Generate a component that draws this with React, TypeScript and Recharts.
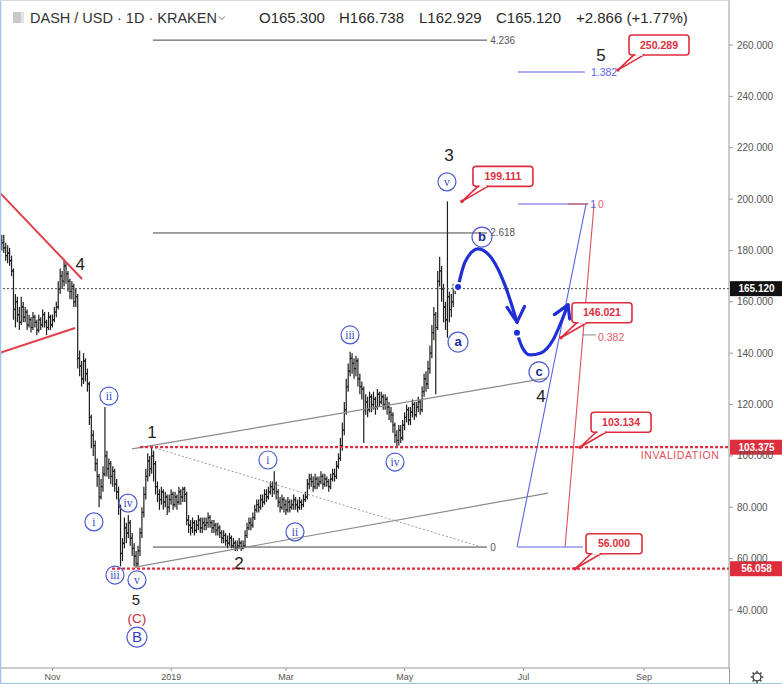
import React from 'react';
import { ComposedChart, XAxis, YAxis, Bar, Line, ReferenceLine, ReferenceDot } from 'recharts';

// ---------------- data ----------------
const START_INDEX = -3; // day index of the first candle (Nov 1 2018 = 23)
const FIRST_OPEN = 184;

const closes = [
  183,
  181, 178, 179, 176, 172,
  157,
  160, 155, 152, 158, 154, 156, 151, 153, 150, 154, 152, 149, 153, 151, 155, 152, 150, 154, 151, 153, 156, 158,
  165, 170, 168, 174, 171, 168, 164, 166, 160, 162,
  138, 135, 130, 137, 132, 128, 115, 108, 104,
  97, 92, 84, 88, 93, 100, 95, 97, 92, 94, 89,
  86, 80, 62, 66, 72, 70, 74, 68, 64, 61, 58,
  63, 70, 78, 85, 92, 98, 95, 100, 97,
  88, 85, 83, 86, 82, 84, 80, 83, 85, 81, 84, 82, 86, 84, 87, 85,
  75, 73, 72, 74, 71, 73, 75, 72, 74, 73,
  74,
  76, 74, 72, 73, 71, 72, 70,
  68, 69, 67, 66, 68, 65, 66, 64, 65, 66, 64, 65,
  69, 72, 74, 73, 76, 79, 81, 80, 83, 82, 85, 84,
  86, 88, 87, 89, 86, 82, 80, 83, 81, 79, 82, 80,
  81,
  83, 81, 80, 82, 81, 83, 84,
  89, 91, 90, 88, 91, 89, 90, 92, 89, 91, 90, 88, 91, 93, 92,
  96, 99, 104, 110, 118, 127, 133, 138,
  136, 134, 137, 130, 127, 126, 118,
  121, 118, 123, 120, 122, 119, 124, 121, 123, 120, 122, 119, 117, 116,
  112, 108, 106, 110, 107, 112,
  115, 118, 114, 117, 120, 116, 119, 121, 118,
  125, 130, 128, 134, 140, 148, 155, 150,
  168, 172, 165, 158, 153, 162,
  157, 160, 165.3, 165.12,
];

const highs = [
  186,
  186, 183, 182, 181, 178,
  173,
  163, 162, 158, 162, 160, 158, 157, 155, 154, 156, 155, 153, 155, 154, 157, 156, 153, 156, 155, 155, 158, 160,
  168, 173, 172, 176, 175, 172, 169, 168, 167, 165,
  163, 141, 137, 140, 138, 134, 129, 116, 110,
  106, 99, 93, 91, 96, 119, 102, 99, 98, 96, 95,
  91, 88, 81, 68, 76, 74, 77, 75, 70, 66, 63,
  65, 72, 80, 88, 95, 101, 100, 104, 102,
  98, 90, 87, 88, 87, 86, 85, 85, 87, 86, 86, 85, 88, 87, 88, 88,
  86, 77, 75, 76, 75, 75, 77, 76, 76, 76,
  76,
  78, 77, 75, 75, 74, 74, 73,
  71, 71, 70, 69, 70, 69, 68, 67, 67, 68, 67, 67,
  71, 74, 76, 76, 78, 81, 83, 83, 85, 85, 87, 87,
  88, 90, 90, 94, 90, 87, 84, 85, 84, 83, 84, 83,
  83,
  85, 84, 83, 84, 83, 85, 86,
  91, 93, 93, 92, 93, 92, 92, 94, 93, 93, 92, 91, 93, 95, 95,
  98, 101, 107, 113, 121, 130, 136, 140.5,
  140, 138, 139, 138, 132, 129, 127,
  124, 123, 125, 124, 125, 123, 126, 125, 125, 124, 124, 123, 121, 119,
  117, 113, 110, 112, 112, 114,
  117, 120, 119, 119, 122, 121, 121, 123, 122,
  127, 132, 133, 137, 143, 151, 158, 156,
  172, 177.5, 174, 167, 160, 199.111,
  164, 163, 167, 166.738,
];

const lows = [
  180,
  179, 176, 175, 174, 170,
  153,
  150, 152, 149, 151, 152, 152, 149, 150, 148, 149, 150, 147, 148, 149, 150, 150, 147, 149, 149, 150, 152, 154,
  157, 163, 165, 166, 167, 164, 161, 161, 158, 158,
  134, 131, 127, 128, 129, 125, 112, 103, 100,
  94, 88, 80, 83, 86, 92, 92, 91, 89, 88, 86,
  83, 77, 57, 59, 64, 66, 68, 65, 61, 57, 56.5,
  57, 61, 68, 76, 83, 90, 92, 93, 90,
  85, 82, 79, 81, 79, 80, 77, 78, 81, 79, 80, 79, 81, 81, 82, 82,
  73, 70, 69, 70, 69, 70, 71, 70, 70, 71,
  71,
  72, 72, 70, 70, 69, 69, 68,
  66, 66, 65, 64, 65, 64, 64, 63, 63, 64, 63, 63.5,
  64, 68, 71, 71, 72, 75, 78, 78, 79, 80, 81, 82,
  83, 85, 84, 85, 83, 80, 78, 79, 78, 77, 78, 78,
  79,
  79, 79, 78, 79, 79, 80, 82,
  83, 87, 88, 86, 87, 87, 88, 89, 87, 88, 88, 86, 87, 90, 90,
  91, 95, 98, 102, 108, 116, 125, 131,
  132, 130, 131, 127, 124, 122, 105,
  116, 115, 117, 117, 118, 116, 118, 119, 120, 118, 118, 116, 114, 113,
  109, 105, 103.5, 104, 105, 106,
  110, 113, 112, 112, 115, 114, 115, 117, 116,
  117, 123, 125, 126, 132, 138, 145, 124,
  149, 166, 160, 152, 149, 146,
  152, 154, 158, 162.929,
];

const monthTicks = [23, 84, 143, 204, 265, 327];
const monthLabels = ['Nov', '2019', 'Mar', 'May', 'Jul', 'Sep'];
const priceTicks = [40, 60, 80, 100, 120, 140, 160, 180, 200, 220, 240, 260];
const X_DOMAIN: [number, number] = [-3.98, 370.64];
const Y_DOMAIN: [number, number] = [17.4, 277.52];

const lastPrice = 165.12;
const invalidationLevel = 103.375;
const lowLevel = 56.058;

// annotation geometry, in (day index, price)
const redWedge = [
  [{ i: -3.98, v: 202.4 }, { i: 38.2, v: 168.9 }],
  [{ i: -3.98, v: 140.1 }, { i: 34.6, v: 149.8 }],
];
const channelLines = [
  [{ i: 63.9, v: 102.7 }, { i: 277.1, v: 130.3 }],
  [{ i: 65.4, v: 56.7 }, { i: 277.6, v: 85.5 }],
];
const dottedDiagonal = [{ i: 75.7, v: 103.1 }, { i: 245.3, v: 64.1 }];
const fibLevels = [
  { t: '4.236', v: 261.9 },
  { t: '2.618', v: 186.8 },
  { t: '0', v: 64.5 },
];
const fibSpan = [74.6, 246.3];
const blueFib = [
  [{ i: 261.7, v: 64.5 }, { i: 297.2, v: 198.1 }],
  [{ i: 262.2, v: 198.1 }, { i: 298.2, v: 198.1 }],
  [{ i: 262.2, v: 64.5 }, { i: 295.6, v: 64.5 }],
  [{ i: 262.2, v: 249.5 }, { i: 296.6, v: 249.5 }],
];
const redFib = [
  [{ i: 286.4, v: 64.5 }, { i: 301.3, v: 198.1 }],
  [{ i: 287.9, v: 198.1 }, { i: 298.2, v: 198.1 }],
];
const grayTick = [{ i: 295.1, v: 147.1 }, { i: 302.3, v: 147.1 }];
const fibTexts = [
  { t: '1.382', i: 299.7, v: 249.5, kind: 'blue' },
  { t: '1', i: 299.4, v: 198.1, kind: 'blue' },
  { t: '0', i: 303.3, v: 198.1, kind: 'red' },
  { t: '0.382', i: 303.3, v: 146.3, kind: 'red' },
];

const waveNumbers = [
  { t: '4', i: 37.2, v: 174.7 },
  { t: '1', i: 74.1, v: 109.3 },
  { t: '2', i: 118.8, v: 58.3 },
  { t: '5', i: 65.9, v: 43.8 },
  { t: '3', i: 226.8, v: 217.2 },
  { t: '5', i: 304.9, v: 256.1 },
  { t: '4', i: 274.0, v: 123.3 },
];
const redWaveLabels = [{ t: '(C)', i: 66.4, v: 36.6 }];
const bigCircleLabels = [{ t: 'B', i: 66.4, v: 29.4 }];
const minorCircleLabels = [
  { t: 'ii', i: 52.0, v: 123.3 },
  { t: 'i', i: 44.3, v: 74.3 },
  { t: 'iv', i: 61.8, v: 81.6 },
  { t: 'iii', i: 55.1, v: 53.6 },
  { t: 'v', i: 66.4, v: 51.7 },
  { t: 'i', i: 133.7, v: 98.4 },
  { t: 'ii', i: 147.6, v: 70.4 },
  { t: 'iii', i: 175.9, v: 147.1 },
  { t: 'iv', i: 199.0, v: 97.6 },
  { t: 'v', i: 225.7, v: 206.7 },
];
const abcLabels = [
  { t: 'b', i: 243.7, v: 185.2 },
  { t: 'a', i: 231.4, v: 144.3 },
  { t: 'c', i: 273.0, v: 132.7 },
];
const callouts = [
  { t: '199.111', i: 233.4, v: 199.111 },
  { t: '250.289', i: 313.6, v: 250.289 },
  { t: '146.021', i: 284.3, v: 146.021 },
  { t: '103.134', i: 294.1, v: 103.375 },
  { t: '56.000', i: 291.5, v: 56.058 },
];
const priceTags = [
  { t: '165.120', v: 165.12, kind: 'last' },
  { t: '103.375', v: 103.375, kind: 'red' },
  { t: '56.058', v: 56.058, kind: 'red' },
];
const invalidationText = { t: 'INVALIDATION', i: 345.5, v: 100.3 };

const pathB = [
  { i: 231.4, v: 165.8 },
  { i: 235.0, v: 175.5 },
  { i: 241.7, v: 180.6 },
  { i: 248.9, v: 176.7 },
  { i: 255.5, v: 166.5 },
  { i: 261.7, v: 152.1 },
];
const arrowB = [
  [{ i: 256.6, v: 157.8 }, { i: 261.7, v: 152.1 }],
  [{ i: 265.6, v: 158.2 }, { i: 261.7, v: 152.1 }],
];
const pathC = [
  { i: 261.7, v: 147.9 },
  { i: 264.3, v: 142.4 },
  { i: 268.4, v: 139.3 },
  { i: 274.0, v: 140.1 },
  { i: 280.2, v: 145.1 },
  { i: 284.8, v: 152.9 },
  { i: 287.9, v: 158.8 },
];
const arrowC = [
  [{ i: 280.9, v: 155.0 }, { i: 287.9, v: 158.8 }],
  [{ i: 288.8, v: 153.3 }, { i: 287.9, v: 158.8 }],
];

// ---------------- derived table ----------------
const candles = closes.map((c, k) => {
  const o = k === 0 ? FIRST_OPEN : closes[k - 1];
  const h = Math.max(highs[k], o, c);
  const l = Math.min(lows[k], o, c);
  return { i: START_INDEX + k, o, h, l, c, range: [l, h] };
});

// ---------------- styles ----------------
const RED = '#de2d3c';
const BLUE_DARK = '#1f2fd6';
const BLUE_FIB = '#5b63e6';
const CIRCLE_BLUE = '#4d5bd0';
const SANS = 'Liberation Sans, Arial, sans-serif';
const SERIF = 'Liberation Serif, Times New Roman, serif';

const Ohlc = (p: any) => {
  const { x, y, width, height, payload } = p;
  if (!payload || height == null || isNaN(y)) return null;
  const cx = x + width / 2;
  const span = payload.h - payload.l || 1;
  const k = height / span;
  const oy = y + (payload.h - payload.o) * k;
  const cy = y + (payload.h - payload.c) * k;
  return (
    <g stroke="#1e1e1e" strokeWidth={1.2}>
      <line x1={cx} x2={cx} y1={y} y2={y + Math.max(height, 1)} />
      <line x1={cx - 1.5} x2={cx} y1={oy} y2={oy} />
      <line x1={cx} x2={cx + 1.5} y1={cy} y2={cy} />
    </g>
  );
};

const textAt = (t: string, opts: any) => (p: any) => (
  <text
    x={p.cx}
    y={p.cy}
    dy="0.35em"
    textAnchor={opts.anchor || 'middle'}
    fontSize={opts.size}
    fill={opts.fill}
    fontFamily={opts.family || SANS}
    fontWeight={opts.weight || 'normal'}
    letterSpacing={opts.spacing || 0}
  >
    {t}
  </text>
);

const circleAt = (t: string, r: number, size: number, fill: string, family: string, weight: string) => (p: any) => (
  <g>
    <circle cx={p.cx} cy={p.cy} r={r} fill="none" stroke={CIRCLE_BLUE} strokeWidth={1.2} />
    <text x={p.cx} y={p.cy} dy="0.33em" textAnchor="middle" fontSize={size} fill={fill} fontFamily={family} fontWeight={weight}>
      {t}
    </text>
  </g>
);

const calloutAt = (t: string) => (p: any) => {
  const w = t.length > 6 ? 60 : 56;
  const h = 20;
  const bx = p.cx + 11;
  const by = p.cy - 35;
  return (
    <g>
      <rect x={bx} y={by} width={w} height={h} rx={3} fill="#fff" stroke={RED} strokeWidth={1.6} />
      <polygon
        points={`${bx + 5},${by + h} ${bx + 15},${by + h} ${p.cx},${p.cy}`}
        fill="#fff"
        stroke={RED}
        strokeWidth={1.6}
        strokeLinejoin="round"
      />
      <line x1={bx + 6.5} x2={bx + 13.5} y1={by + h - 0.3} y2={by + h - 0.3} stroke="#fff" strokeWidth={2.4} />
      <circle cx={p.cx} cy={p.cy} r={1.8} fill={RED} />
      <text x={bx + w / 2} y={by + h / 2} dy="0.35em" textAnchor="middle" fontSize={10.5} fontWeight="bold" fill={RED} fontFamily={SANS}>
        {t}
      </text>
    </g>
  );
};

const tagAt = (t: string, kind: string) => (p: any) => (
  <g>
    <rect x={p.cx + 1} y={p.cy - 7.5} width={53} height={15} fill={kind === 'last' ? '#111' : RED} />
    <text x={p.cx + 27.5} y={p.cy} dy="0.35em" textAnchor="middle" fontSize={10} fill="#fff" fontFamily={SANS} fontWeight="bold">
      {t}
    </text>
  </g>
);

const seg = (a: any, b: any) => [{ x: a.i, y: a.v }, { x: b.i, y: b.v }];

const Header = () => (
  <svg width={782} height={684} style={{ position: 'absolute', left: 0, top: 0, pointerEvents: 'none' }}>
    <line x1={0.5} x2={0.5} y1={0} y2={684} stroke="#9cc3ec" strokeWidth={1.5} />
    <line x1={0} x2={782} y1={683.5} y2={683.5} stroke="#9cc3ec" strokeWidth={1} />
    <line x1={0} x2={729} y1={0.5} y2={0.5} stroke="#d8d8d8" strokeWidth={1} />
    <line x1={729.5} x2={729.5} y1={668} y2={684} stroke="#999" strokeWidth={1} />
    <rect x={13} y={12} width={8} height={11} fill="#c8c8c8" />
    <rect x={21} y={12} width={3} height={11} fill="#e2e2e2" />
    <text x={30} y={23} fontSize={14.5} fill="#333" fontFamily={SANS}>
      DASH / USD · 1D · KRAKEN
    </text>
    <path d="M219 16.5 L222 19.5 L225 16.5" fill="none" stroke="#666" strokeWidth={1} />
    <g fontSize={15} fill="#2a2a2a" fontFamily={SANS}>
      <text x={259} y={23}>O165.300</text>
      <text x={339} y={23}>H166.738</text>
      <text x={419} y={23}>L162.929</text>
      <text x={496} y={23}>C165.120</text>
      <text x={576} y={23}>+2.866 (+1.77%)</text>
    </g>
    <g stroke="#444" strokeWidth={1.5} fill="none">
      <circle cx={757} cy={677} r={4} />
      {[0, 45, 90, 135, 180, 225, 270, 315].map((a) => {
        const r = (a * Math.PI) / 180;
        return (
          <line
            key={a}
            x1={757 + Math.cos(r) * 4.5}
            y1={677 + Math.sin(r) * 4.5}
            x2={757 + Math.cos(r) * 6.3}
            y2={677 + Math.sin(r) * 6.3}
          />
        );
      })}
    </g>
  </svg>
);

export default function App() {
  return (
    <div style={{ position: 'absolute', left: 0, top: 0, width: 782, height: 684, background: '#fff', fontFamily: SANS }}>
      <ComposedChart width={782} height={684} data={candles} margin={{ top: 0, right: 0, bottom: 0, left: 0 }}>
        <XAxis
          dataKey="i"
          type="number"
          domain={X_DOMAIN}
          allowDataOverflow
          ticks={monthTicks}
          interval={0}
          tickFormatter={(v: number) => monthLabels[monthTicks.indexOf(v)] || ''}
          height={16}
          tickSize={3}
          tickMargin={3}
          tick={{ fontSize: 9, fill: '#555', fontFamily: SANS }}
          axisLine={{ stroke: '#999' }}
          tickLine={{ stroke: '#999' }}
        />
        <YAxis
          orientation="right"
          type="number"
          domain={Y_DOMAIN}
          allowDataOverflow
          ticks={priceTicks}
          interval={0}
          width={53}
          tickSize={4}
          tickMargin={4}
          tickFormatter={(v: number) => v.toFixed(3)}
          tick={{ fontSize: 10, fill: '#555', fontFamily: SANS }}
          axisLine={{ stroke: '#999' }}
          tickLine={{ stroke: '#999' }}
        />

        {/* horizontal reference levels */}
        <ReferenceLine y={lastPrice} stroke="#444" strokeDasharray="2 2" strokeWidth={1} />
        {fibLevels.map((f) => (
          <ReferenceLine key={'fib' + f.t} segment={seg({ i: fibSpan[0], v: f.v }, { i: fibSpan[1], v: f.v })} stroke="#444" strokeWidth={1} ifOverflow="visible" />
        ))}
        {redWedge.map((s, k) => (
          <ReferenceLine key={'rw' + k} segment={seg(s[0], s[1])} stroke="#e0404c" strokeWidth={2} ifOverflow="visible" />
        ))}
        {channelLines.map((s, k) => (
          <ReferenceLine key={'ch' + k} segment={seg(s[0], s[1])} stroke="#8a8a8a" strokeWidth={1.2} ifOverflow="visible" />
        ))}
        <ReferenceLine segment={seg(dottedDiagonal[0], dottedDiagonal[1])} stroke="#9a9a9a" strokeWidth={1} strokeDasharray="2 2" ifOverflow="visible" />
        {blueFib.map((s, k) => (
          <ReferenceLine key={'bf' + k} segment={seg(s[0], s[1])} stroke={BLUE_FIB} strokeWidth={1.1} ifOverflow="visible" />
        ))}
        {redFib.map((s, k) => (
          <ReferenceLine key={'rf' + k} segment={seg(s[0], s[1])} stroke="#e0505c" strokeWidth={1.1} ifOverflow="visible" />
        ))}
        <ReferenceLine segment={seg(grayTick[0], grayTick[1])} stroke="#888" strokeWidth={1} ifOverflow="visible" />
        <ReferenceLine segment={[{ x: 68, y: invalidationLevel }, { x: X_DOMAIN[1], y: invalidationLevel }]} stroke={RED} strokeWidth={2.2} strokeDasharray="3 2" ifOverflow="visible" />
        <ReferenceLine segment={[{ x: 53.6, y: lowLevel }, { x: X_DOMAIN[1], y: lowLevel }]} stroke={RED} strokeWidth={2.2} strokeDasharray="3 2" ifOverflow="visible" />

        {/* price bars */}
        <Bar dataKey="range" barSize={2} isAnimationActive={false} shape={(p: any) => <Ohlc {...p} />} />

        {/* projected path */}
        <Line data={pathB} dataKey="v" type="monotone" stroke={BLUE_DARK} strokeWidth={3.2} dot={false} isAnimationActive={false} strokeLinecap="round" />
        <Line data={pathC} dataKey="v" type="monotone" stroke={BLUE_DARK} strokeWidth={3.2} dot={false} isAnimationActive={false} strokeLinecap="round" />
        {[...arrowB, ...arrowC].map((s, k) => (
          <ReferenceLine key={'ar' + k} segment={seg(s[0], s[1])} stroke={BLUE_DARK} strokeWidth={3.2} strokeLinecap="round" ifOverflow="visible" />
        ))}

        {/* texts */}
        {fibLevels.map((f) => (
          <ReferenceDot key={'fl' + f.t} x={fibSpan[1] + 1.6} y={f.v} r={0} ifOverflow="visible" shape={textAt(f.t, { size: 10, fill: '#555', anchor: 'start' })} />
        ))}
        {fibTexts.map((f, k) => (
          <ReferenceDot
            key={'ft' + k}
            x={f.i}
            y={f.v}
            r={0}
            ifOverflow="visible"
            shape={textAt(f.t, { size: 10.5, fill: f.kind === 'blue' ? BLUE_FIB : '#e0606c', anchor: 'start' })}
          />
        ))}
        {waveNumbers.map((w, k) => (
          <ReferenceDot key={'wn' + k} x={w.i} y={w.v} r={0} ifOverflow="visible" shape={textAt(w.t, { size: w.t === '5' && w.i < 100 ? 15 : 17, fill: '#222' })} />
        ))}
        {redWaveLabels.map((w, k) => (
          <ReferenceDot key={'rl' + k} x={w.i} y={w.v} r={0} ifOverflow="visible" shape={textAt(w.t, { size: 13.5, fill: '#c42a36' })} />
        ))}
        {bigCircleLabels.map((w, k) => (
          <ReferenceDot key={'bc' + k} x={w.i} y={w.v} r={0} ifOverflow="visible" shape={circleAt(w.t, 10, 15, '#2f3fc4', SANS, 'normal')} />
        ))}
        {minorCircleLabels.map((w, k) => (
          <ReferenceDot key={'mc' + k} x={w.i} y={w.v} r={0} ifOverflow="visible" shape={circleAt(w.t, 9, 11.5, '#3a48c8', SERIF, 'normal')} />
        ))}
        {abcLabels.map((w, k) => (
          <ReferenceDot key={'abc' + k} x={w.i} y={w.v} r={0} ifOverflow="visible" shape={circleAt(w.t, 10, 13, '#1c2a9a', SANS, 'bold')} />
        ))}
        <ReferenceDot
          x={invalidationText.i}
          y={invalidationText.v}
          r={0}
          ifOverflow="visible"
          shape={textAt(invalidationText.t, { size: 10.5, fill: '#e0505c', spacing: 0.6 })}
        />
        {callouts.map((c, k) => (
          <ReferenceDot key={'co' + k} x={c.i} y={c.v} r={0} ifOverflow="visible" shape={calloutAt(c.t)} />
        ))}
        {priceTags.map((p, k) => (
          <ReferenceDot key={'pt' + k} x={X_DOMAIN[1]} y={p.v} r={0} ifOverflow="visible" shape={tagAt(p.t, p.kind)} />
        ))}
      </ComposedChart>
      <Header />
    </div>
  );
}
